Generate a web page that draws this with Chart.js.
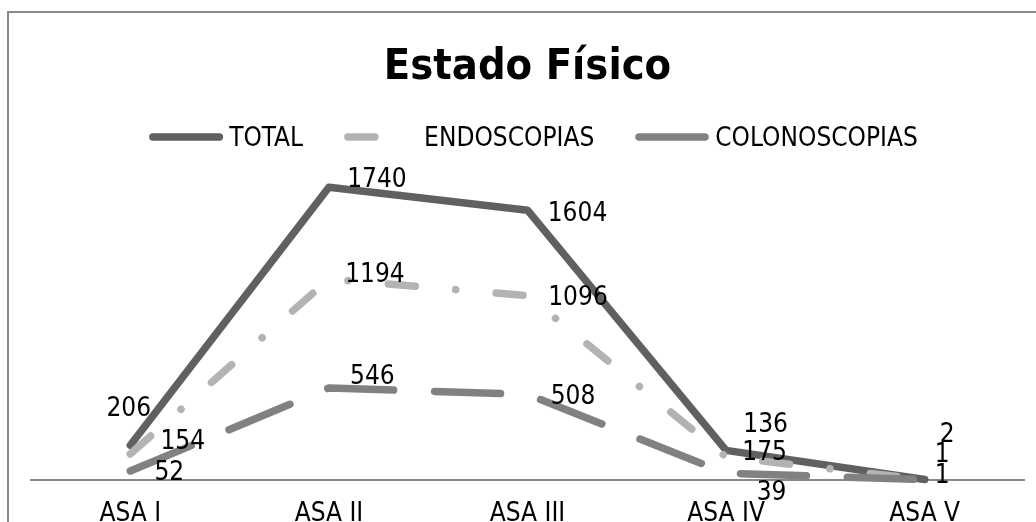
<!DOCTYPE html>
<html>
<head>
<meta charset="utf-8">
<title>Estado Físico</title>
<script src="https://cdn.jsdelivr.net/npm/chart.js@4.4.0/dist/chart.umd.min.js"></script>
<style>
html, body { margin:0; padding:0; background:#fff; overflow:hidden; }
#frame { position:absolute; left:7px; top:11px; width:1040px; height:560px; border:2px solid #898989; }
#chartBox { position:relative; width:1030px; height:536px; }
</style>
</head>
<body>

<div id="frame"><div id="chartBox"><canvas id="asaChart"></canvas></div></div>

<script>

// ---------- DATA ----------

const categories = ["ASA I", "ASA II", "ASA III", "ASA IV", "ASA V"];

const totalValues = [206, 1740, 1604, 175, 2];
const endoscopiaValues = [154, 1194, 1096, 136, 1];
const colonoscopiaValues = [52, 546, 508, 39, 1];

const yAxisMin = 0;
const yAxisMax = 2000;


// ---------- LOOK ----------

const FONT_FAMILY = "'DejaVu Sans Condensed', 'DejaVu Sans', sans-serif";
const TEXT_SIZE = 26;

// label centre relative to its point: [dx, dy]
const labelNudges = [
  [[-1.5, -39], [48, -10], [50, 1], [38.5, 0], [22.5, -47]],
  [[52.5, -14], [46, -7], [50.5, 0], [39.5, -34], [17.5, -27]],
  [[39, -1], [43.5, -13], [45.5, 0], [45.5, 17], [17.5, -6]]
];

// put text so that its capitals/digits are centred on y
function textAt(ctx, text, x, y){
  ctx.textBaseline = "alphabetic";
  ctx.fillText(text, x, y + TEXT_SIZE * 0.3645);
}


// ---------- PLUGINS ----------

// legend with real line samples (round caps + dash pattern)
const lineLegend = {
  id: "lineLegend",
  afterDraw(chart){
    const ctx = chart.ctx;
    const sets = chart.data.datasets;
    const sample = 74;
    const textGap = 6;
    const itemGap = 41;
    const y = 124;

    ctx.save();
    ctx.font = TEXT_SIZE + "px " + FONT_FAMILY;
    ctx.textAlign = "left";

    let widths = sets.map(ds => sample + textGap + ctx.measureText(ds.label).width);
    let full = widths.reduce((a, b) => a + b, 0) + itemGap * (sets.length - 1);
    let x = (chart.chartArea.left + chart.chartArea.right) / 2 - full / 2 + 6;

    sets.forEach((ds, i) => {
      const half = ds.borderWidth / 2;
      ctx.beginPath();
      ctx.strokeStyle = ds.borderColor;
      ctx.lineWidth = ds.borderWidth;
      ctx.lineCap = "round";
      ctx.setLineDash(ds.borderDash || []);
      ctx.moveTo(x + half, y);
      ctx.lineTo(x + sample - half, y);
      ctx.stroke();
      ctx.setLineDash([]);

      ctx.fillStyle = "#000";
      textAt(ctx, ds.label, x + sample + textGap, y);
      x += widths[i] + itemGap;
    });

    ctx.restore();
  }
};

// value labels next to every point
const valueLabels = {
  id: "valueLabels",
  afterDatasetsDraw(chart){
    const ctx = chart.ctx;
    ctx.save();
    ctx.font = TEXT_SIZE + "px " + FONT_FAMILY;
    ctx.fillStyle = "#000";
    ctx.textAlign = "center";

    chart.data.datasets.forEach((ds, i) => {
      const meta = chart.getDatasetMeta(i);
      meta.data.forEach((pt, j) => {
        const nudge = labelNudges[i][j];
        textAt(ctx, String(ds.data[j]), pt.x + nudge[0], pt.y + nudge[1]);
      });
    });

    ctx.restore();
  }
};


// ---------- CHART ----------

function makeSeries(label, values, color, dash, order){
  return {
    label: label,
    data: values,
    borderColor: color,
    backgroundColor: color,
    borderWidth: 7.5,
    borderDash: dash,
    borderCapStyle: "round",
    borderJoinStyle: "round",
    pointRadius: 0,
    pointHoverRadius: 0,
    tension: 0,
    fill: false,
    clip: false,
    order: order
  };
}

function createChart(){

  Chart.defaults.font.family = FONT_FAMILY;
  Chart.defaults.color = "#000";

  new Chart(document.getElementById("asaChart"), {
    type: "line",
    data: {
      labels: categories,
      datasets: [
        makeSeries("TOTAL", totalValues, "#606060", [], 3),
        makeSeries("ENDOSCOPIAS", endoscopiaValues, "#b3b3b3", [27, 40.5, 0.1, 40.5], 2),
        makeSeries("COLONOSCOPIAS", colonoscopiaValues, "#818181", [66, 41], 1)
      ]
    },
    options: {
      responsive: true,
      maintainAspectRatio: false,
      animation: false,
      events: [],
      layout: {
        padding: { left: 22, right: 15, top: 0, bottom: 0 }
      },
      plugins: {
        legend: { display: false },
        tooltip: { enabled: false },
        title: {
          display: true,
          text: "Estado Físico",
          color: "#000",
          font: { size: 43, weight: "bold", family: FONT_FAMILY },
          padding: { top: 29, bottom: 50 }
        }
      },
      scales: {
        x: {
          offset: true,
          grid: { display: false, drawTicks: false },
          border: { display: true, color: "#898989", width: 2 },
          ticks: {
            font: { size: TEXT_SIZE },
            color: "#000",
            padding: 19,
            maxRotation: 0,
            autoSkip: false
          }
        },
        y: {
          display: false,
          min: yAxisMin,
          max: yAxisMax
        }
      }
    },
    plugins: [valueLabels, lineLegend]
  });

}

document.addEventListener("DOMContentLoaded", function(){
  createChart();
});

</script>
</body>
</html>
